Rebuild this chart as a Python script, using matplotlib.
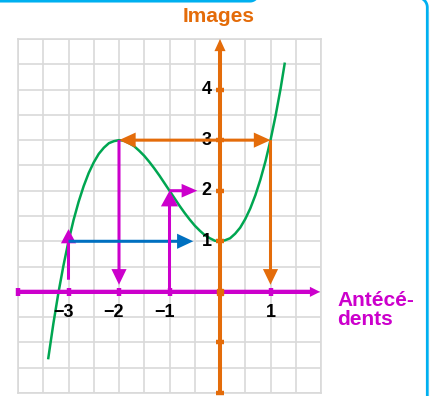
import numpy as np
import matplotlib
matplotlib.use("Agg")
import matplotlib.pyplot as plt
from matplotlib.lines import Line2D
from matplotlib.transforms import Affine2D

plt.rcParams['font.family'] = ['Liberation Sans', 'DejaVu Sans']

# curve
curve_x = [-3.4, -3.3, -3.2, -3.1, -3.0, -2.9, -2.8, -2.7, -2.6, -2.5, -2.4, -2.3,
           -2.2, -2.1, -2.0, -1.9, -1.8, -1.7, -1.6, -1.5, -1.4, -1.3, -1.2, -1.1,
           -1.0, -0.9, -0.8, -0.7, -0.6, -0.5, -0.4, -0.3, -0.2, -0.1, 0.0, 0.1,
           0.2, 0.3, 0.4, 0.5, 0.6, 0.7, 0.8, 0.9, 1.0, 1.1, 1.2, 1.28]
curve_y = [-1.31, -0.63, -0.02, 0.52, 1.00, 1.42, 1.78, 2.09, 2.35, 2.56, 2.73, 2.85,
           2.94, 2.98, 3.00, 2.99, 2.94, 2.88, 2.79, 2.69, 2.57, 2.44, 2.30, 2.15,
           2.00, 1.85, 1.70, 1.56, 1.43, 1.31, 1.21, 1.12, 1.06, 1.01, 1.00, 1.02,
           1.06, 1.15, 1.27, 1.44, 1.65, 1.91, 2.22, 2.58, 3.00, 3.48, 4.02, 4.51]

x_ticks = [-3, -2, -1, 1]
x_labels = ['\u22123', '\u22122', '\u22121', '1']
y_ticks = [1, 2, 3, 4]
y_labels = ['1', '2', '3', '4']

ORANGE = '#e46c0a'
MAGENTA = '#cc00cc'
BLUE = '#0070c0'
GREEN = '#00a651'

fig = plt.figure(figsize=(4.30, 3.96), dpi=100)
ax = fig.add_axes([18 / 430, 3 / 396, 303 / 430, 354 / 396])
ax.set_xlim(-4, 2)
ax.set_ylim(-2, 5)
ax.set_xticks(np.arange(-4, 2.01, 0.5))
ax.set_yticks(np.arange(-2, 5.01, 0.5))
ax.tick_params(length=0, labelbottom=False, labelleft=False)
ax.grid(color='#d9d9d9', lw=1.2, zorder=0)
ax.set_axisbelow(True)
for s in ax.spines.values():
    s.set_color('#d9d9d9')
    s.set_linewidth(1.2)


def arrow(x0, y0, x1, y1, color, w=0.06, hw=0.3, hl=0.31, z=4):
    ax.arrow(x0, y0, x1 - x0, y1 - y0, width=w, head_width=hw, head_length=hl,
             length_includes_head=True, color=color, lw=0, zorder=z)


ax.plot(curve_x, curve_y, color=GREEN, lw=1.8, zorder=2)

# axes of the drawing
arrow(-4, 0, 1.98, 0, MAGENTA, w=0.085, hw=0.2, hl=0.2, z=5)
arrow(0, -2, 0, 5, ORANGE, w=0.08, hw=0.22, hl=0.24, z=6)
ax.plot([-4] + x_ticks, [0] * 5, ls='none', marker='|', ms=6, mew=3.2,
        color=MAGENTA, zorder=5, clip_on=False)
ax.plot([0] * 6, [-2, -1] + y_ticks, ls='none', marker='_', ms=6, mew=3.2,
        color=ORANGE, zorder=6, clip_on=False)
ax.plot([0], [0], ls='none', marker='s', ms=4, color=ORANGE, zorder=6)

# reading arrows
arrow(-0.5, 3, 1, 3, ORANGE, hl=0.33)
arrow(-0.5, 3, -2, 3, ORANGE, hl=0.33)
arrow(1, 3, 1, 0.14, ORANGE)
arrow(-2, 3, -2, 0.14, MAGENTA)
arrow(-3, 0.24, -3, 1.24, MAGENTA, hl=0.28)
arrow(-3, 1, -0.53, 1, BLUE, hl=0.32)
arrow(-1, 0, -1, 2.0, MAGENTA, hw=0.34)
arrow(-1, 2, -0.45, 2, MAGENTA, hw=0.27)

for t, lab in zip(x_ticks, x_labels):
    ax.text(t + 0.1, -0.41, lab, ha='right', va='center', fontsize=13,
            fontweight='bold', color='black', zorder=3)
for t, lab in zip(y_ticks, y_labels):
    ax.text(-0.17, t, lab, ha='right', va='center', fontsize=13,
            fontweight='bold', color='black', zorder=3)

fig.text(218.5 / 430, 1 - 17 / 396, 'Images', ha='center', va='center',
         fontsize=15, fontweight='bold', color=ORANGE)
fig.text(337.5 / 430, 1 - 310 / 396, 'Antécé-\ndents', ha='left', va='center',
         fontsize=15, fontweight='bold', color=MAGENTA, linespacing=1.0)

# frame pieces around the picture (pixel coords, y down)
tr = Affine2D().scale(1 / 430, -1 / 396).translate(0, 1) + fig.transFigure
b = np.linspace(np.pi / 2, 0, 20)
tx = [0] + list(250 + 8 * np.cos(b))
ty = [1] + list(-7 + 8 * np.sin(b))
fig.add_artist(Line2D(tx, ty, color='#00b0f0', lw=2.2, transform=tr))
c = np.linspace(-np.pi / 2, 0, 20)
rx = list(417.3 + 10 * np.cos(c)) + [427.3]
ry = list(7.4 + 10 * np.sin(c)) + [396]
fig.add_artist(Line2D(rx, ry, color='#00b0f0', lw=2.0, transform=tr))
fig.add_artist(Line2D([429.5, 429.5], [12, 396], color='#808080', lw=0.8,
                      transform=tr))

fig.savefig('out.png', dpi=100)
